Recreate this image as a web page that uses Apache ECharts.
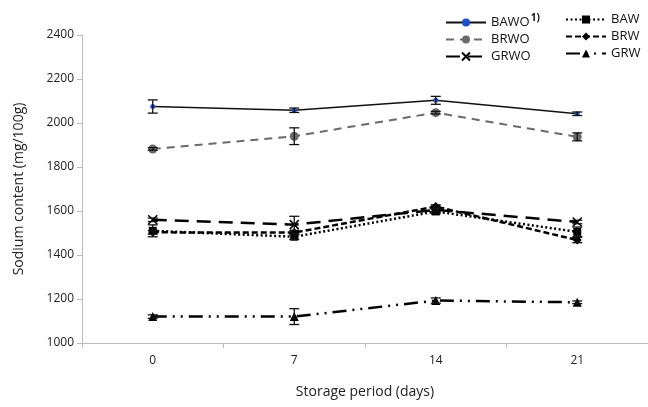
<!DOCTYPE html>
<html><head><meta charset="utf-8">
<script src="https://cdn.jsdelivr.net/npm/echarts@6/dist/echarts.min.js"></script>
<style>html,body{margin:0;padding:0;background:#fff}#c{width:648px;height:407px}</style>
</head><body><div id="c"></div>
<script>
const categories = ['0', '7', '14', '21'];
const BAWO = [2075, 2058, 2103, 2042];
const BAWO_err = [30, 10, 18, 8];
const BRWO = [1882, 1940, 2047, 1937];
const BRWO_err = [6, 38, 6, 18];
const GRWO = [1560, 1538, 1605, 1550];
const GRWO_err = [8, 38, 8, 8];
const BAW = [1510, 1483, 1598, 1505];
const BAW_err = [27, 12, 8, 22];
const BRW = [1503, 1502, 1620, 1468];
const BRW_err = [8, 10, 8, 12];
const GRW = [1120, 1120, 1193, 1185];
const GRW_err = [8, 36, 12, 6];

const FONT = '"Open Sans", sans-serif';
const chart = echarts.init(document.getElementById('c'));

const all = [[BAWO, BAWO_err], [BRWO, BRWO_err], [GRWO, GRWO_err], [BAW, BAW_err], [BRW, BRW_err], [GRW, GRW_err]];
const errData = [];
all.forEach(([v, e]) => v.forEach((y, i) => errData.push([i, y - e[i], y + e[i]])));

function lineSeries(name, data, color, width, dash, symbol, size, extra) {
  return Object.assign({
    name, type: 'line', data, symbol, symbolSize: size, z: 3,
    lineStyle: { color, width, type: dash },
    itemStyle: { color, borderColor: color, borderWidth: 0 },
    emphasis: { disabled: true }, animation: false
  }, extra || {});
}

const series = [
  lineSeries('BAWO', BAWO, '#111', 1.5, 'solid', 'circle', 5, { itemStyle: { color: '#1f4fc8' }, lineStyle: { color: '#111', width: 1.5 } }),
  lineSeries('BRWO', BRWO, '#6a6a6a', 2, [8, 6], 'circle', 9),
  lineSeries('GRWO', GRWO, '#000', 2.5, [14, 8], 'path://M0,0L10,10M10,0L0,10', 9,
    { itemStyle: { color: 'none', borderColor: '#000', borderWidth: 1.5 } }),
  lineSeries('BAW', BAW, '#000', 2.5, [2, 2.5], 'rect', 8),
  lineSeries('BRW', BRW, '#000', 2.5, [6, 3], 'diamond', 9),
  lineSeries('GRW', GRW, '#000', 2.5, [14, 6, 2, 6, 2, 6], 'triangle', 9),
  {
    type: 'custom', z: 4, silent: true, animation: false,
    data: errData,
    encode: { x: 0, y: [1, 2] },
    renderItem: function (params, api) {
      const x = api.value(0);
      const lo = api.coord([x, api.value(1)]);
      const hi = api.coord([x, api.value(2)]);
      const w = 5;
      const st = { stroke: '#111', lineWidth: 1.3 };
      return {
        type: 'group', children: [
          { type: 'line', shape: { x1: lo[0], y1: lo[1], x2: hi[0], y2: hi[1] }, style: st },
          { type: 'line', shape: { x1: lo[0] - w, y1: lo[1], x2: lo[0] + w, y2: lo[1] }, style: st },
          { type: 'line', shape: { x1: hi[0] - w, y1: hi[1], x2: hi[0] + w, y2: hi[1] }, style: st }
        ]
      };
    }
  }
];

const legendText = {
  fontFamily: FONT, fontSize: 13, color: '#111',
  rich: {
    n: { fontFamily: FONT, fontSize: 13, color: '#111' },
    s: { fontFamily: FONT, fontSize: 10, fontWeight: 'bold', color: '#111', padding: [0, 0, 9, 1] }
  }
};

chart.setOption({
  backgroundColor: '#fff',
  animation: false,
  grid: { left: 82, right: 0, top: 35, bottom: 64 },
  legend: [
    {
      data: ['BAWO', 'BRWO', 'GRWO'], orient: 'vertical', left: 440, top: 8,
      itemWidth: 40, itemHeight: 10, itemGap: 4, textStyle: legendText,
      formatter: n => n === 'BAWO' ? '{n|BAWO}{s|1)}' : '{n|' + n + '}'
    },
    {
      data: ['BAW', 'BRW', 'GRW'], orient: 'vertical', left: 560, top: 8,
      itemWidth: 40, itemHeight: 10, itemGap: 4, textStyle: legendText
    }
  ],
  xAxis: {
    type: 'category', data: categories, boundaryGap: true,
    name: 'Storage period (days)', nameLocation: 'middle', nameGap: 42,
    nameTextStyle: { fontFamily: FONT, fontSize: 14, color: '#222' },
    axisLine: { lineStyle: { color: '#bdbdbd', width: 1 } },
    axisTick: { show: true, length: 5, lineStyle: { color: '#bdbdbd' } },
    axisLabel: { fontFamily: FONT, fontSize: 12, color: '#222', margin: 12 }
  },
  yAxis: {
    type: 'value', min: 1000, max: 2400, interval: 200,
    name: 'Sodium content (mg/100g)', nameLocation: 'middle', nameGap: 56,
    nameTextStyle: { fontFamily: FONT, fontSize: 14, color: '#222' },
    axisLine: { show: true, lineStyle: { color: '#bdbdbd', width: 1 } },
    axisTick: { show: true, length: 5, lineStyle: { color: '#bdbdbd' } },
    axisLabel: { fontFamily: FONT, fontSize: 12, color: '#222', margin: 8, formatter: v => String(v) },
    splitLine: { show: false }
  },
  series
});
</script></body></html>
